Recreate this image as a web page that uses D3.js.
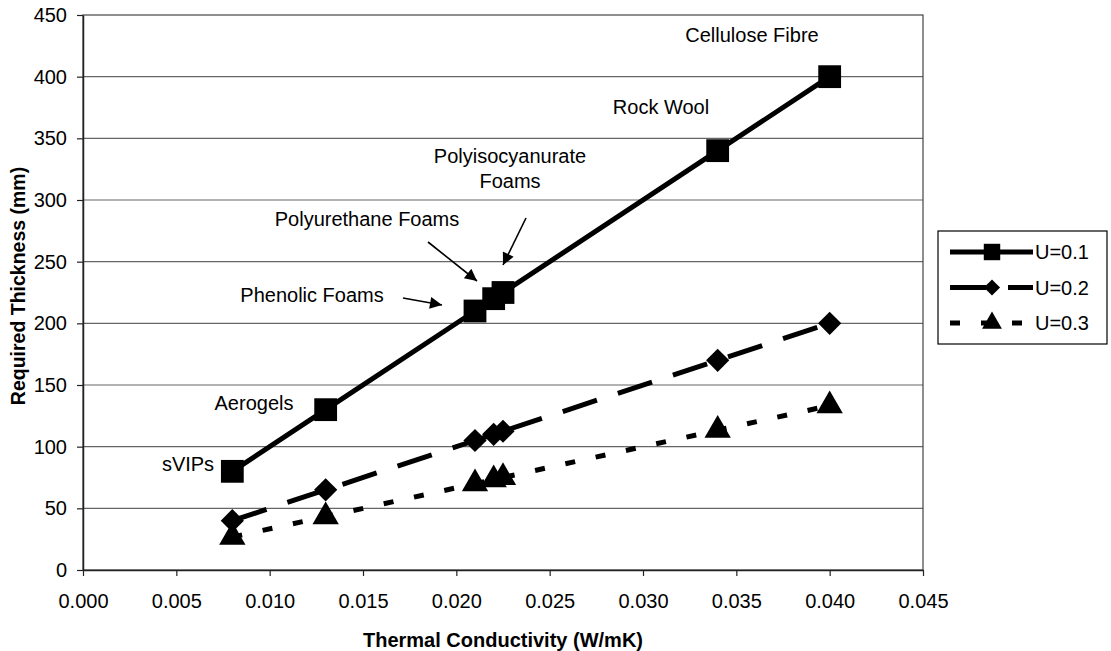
<!DOCTYPE html>
<html><head><meta charset="utf-8">
<script src="https://cdn.jsdelivr.net/npm/d3@7"></script>
<style>body{margin:0;background:#fff}svg{display:block;font-family:"Liberation Sans",Arial,sans-serif}</style>
</head><body><svg id="c" width="1111" height="651"></svg>
<script>
const materials = ["sVIPs","Aerogels","Phenolic Foams","Polyurethane Foams","Polyisocyanurate Foams","Rock Wool","Cellulose Fibre"];
const conductivity = [0.008,0.013,0.021,0.022,0.0225,0.034,0.040];
const u01 = [80,130,210,220,225,340,400];
const u02 = [40,65,105,110,112.5,170,200];
const u03 = [26.7,43.3,70,73.3,75,113.3,133.3];
const seriesNames = ["U=0.1","U=0.2","U=0.3"];
const xTicks = [0,0.005,0.010,0.015,0.020,0.025,0.030,0.035,0.040,0.045];
const yTicks = [0,50,100,150,200,250,300,350,400,450];

const svg = d3.select("#c");
const L=83,R=923,T=15,B=570;
const x = d3.scaleLinear().domain([0,0.045]).range([L,R]);
const y = d3.scaleLinear().domain([0,450]).range([B,T]);

// gridlines
svg.append("g").selectAll("line").data(yTicks.filter(v=>v>0&&v<450)).join("line")
  .attr("x1",L).attr("x2",R).attr("y1",d=>y(d)).attr("y2",d=>y(d))
  .attr("stroke","#666").attr("stroke-width",1.2);
// plot border
svg.append("rect").attr("x",L).attr("y",T).attr("width",R-L).attr("height",B-T)
  .attr("fill","none").attr("stroke","#444").attr("stroke-width",1.2);

// axes
const xa = svg.append("g").attr("transform",`translate(0,${B})`)
  .call(d3.axisBottom(x).tickValues(xTicks).tickFormat(d3.format(".3f")).tickSize(6).tickSizeOuter(0));
const ya = svg.append("g").attr("transform",`translate(${L},0)`)
  .call(d3.axisLeft(y).tickValues(yTicks).tickSize(6).tickSizeOuter(0));
[xa,ya].forEach(a=>{
  a.selectAll("path").attr("stroke","#222").attr("stroke-width",1.5);
  a.selectAll("line").attr("stroke","#222").attr("stroke-width",1.2);
  a.selectAll("text").attr("font-size",20).attr("fill","#000").attr("font-family","Liberation Sans, Arial, sans-serif");
});
xa.selectAll("text").attr("dy",null).attr("y",38);
ya.selectAll("text").attr("x",-16);

// titles
svg.append("text").attr("x",(L+R)/2).attr("y",647).attr("text-anchor","middle")
  .attr("font-size",20).attr("font-weight","bold").text("Thermal Conductivity (W/mK)");
svg.append("text").attr("transform",`translate(25,286) rotate(-90)`).attr("text-anchor","middle")
  .attr("font-size",19.5).attr("font-weight","bold").text("Required Thickness (mm)");

// series
const series = [
  {name:seriesNames[0], vals:u01, dash:null, sym:d3.symbolSquare, size:520, lsize:270, rot:0},
  {name:seriesNames[1], vals:u02, dash:"36,22", sym:d3.symbolSquare, size:270, lsize:130, rot:45},
  {name:seriesNames[2], vals:u03, dash:"10,21", sym:d3.symbolTriangle, size:300, lsize:170, rot:0}
];
const line = d3.line().x(d=>x(d[0])).y(d=>y(d[1]));
series.forEach(s=>{
  const pts = conductivity.map((c,i)=>[c,s.vals[i]]);
  svg.append("path").attr("d",line(pts)).attr("fill","none").attr("stroke","#000")
    .attr("stroke-width",5).attr("stroke-dasharray",s.dash);
  svg.append("g").selectAll("path").data(pts).join("path")
    .attr("transform",d=>`translate(${x(d[0])},${y(d[1])}) rotate(${s.rot})`)
    .attr("d",d3.symbol().type(s.sym).size(s.size)).attr("fill","#000");
});

// annotations
const ann = [
  {t:["Cellulose Fibre"], x:752, y:42},
  {t:["Rock Wool"], x:661, y:114},
  {t:["Polyisocyanurate","Foams"], x:510, y:163},
  {t:["Polyurethane Foams"], x:367, y:226},
  {t:["Phenolic Foams"], x:312, y:302},
  {t:["Aerogels"], x:254, y:410},
  {t:["sVIPs"], x:188, y:471}
];
ann.forEach((a,i)=>{
  const tx = svg.append("text").attr("x",a.x).attr("y",a.y).attr("text-anchor","middle").attr("font-size",20);
  a.t.forEach((s,j)=>tx.append("tspan").attr("x",a.x).attr("dy",j?25:0).text(s));
});

// arrows
const defs = svg.append("defs");
defs.append("marker").attr("id","ah").attr("viewBox","0 0 10 10").attr("refX",10).attr("refY",5)
  .attr("markerWidth",14).attr("markerHeight",12).attr("markerUnits","userSpaceOnUse")
  .attr("orient","auto").append("path").attr("d","M0,0L10,5L0,10Z").attr("fill","#000");
const arrows = [[403,298,442,305],[428,242,477,281],[526,218,503,265]];
svg.append("g").selectAll("line").data(arrows).join("line")
  .attr("x1",d=>d[0]).attr("y1",d=>d[1]).attr("x2",d=>d[2]).attr("y2",d=>d[3])
  .attr("stroke","#000").attr("stroke-width",1.6).attr("marker-end","url(#ah)");

// legend
const lg = svg.append("g");
lg.append("rect").attr("x",938).attr("y",231).attr("width",169).attr("height",113)
  .attr("fill","#fff").attr("stroke","#000").attr("stroke-width",1.2);
series.forEach((s,i)=>{
  const yy = 252 + i*35.5;
  lg.append("line").attr("x1",950).attr("x2",1033).attr("y1",yy).attr("y2",yy)
    .attr("stroke","#000").attr("stroke-width",5).attr("stroke-dasharray",s.dash);
  lg.append("path").attr("transform",`translate(992,${yy}) rotate(${s.rot})`)
    .attr("d",d3.symbol().type(s.sym).size(s.lsize)).attr("fill","#000");
  lg.append("text").attr("x",1035).attr("y",yy).attr("dy","0.36em").attr("font-size",20).text(s.name);
});
</script></body></html>
